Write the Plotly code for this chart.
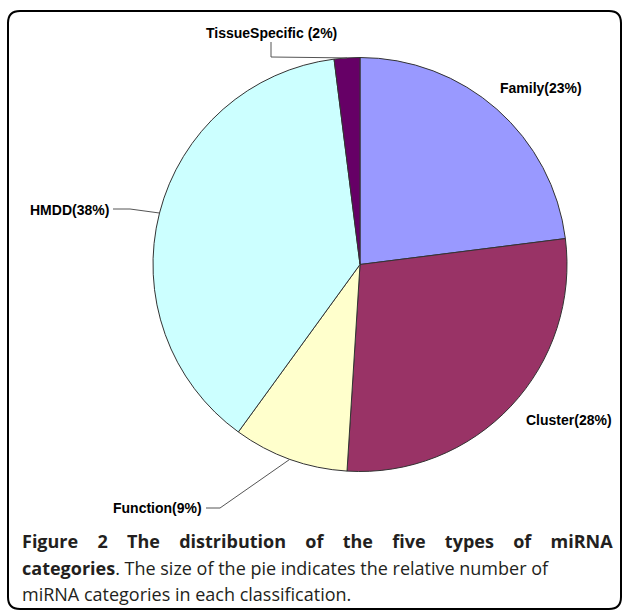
import math
import plotly.graph_objects as go

# ---- data ----
categories = ["Family", "Cluster", "Function", "HMDD", "TissueSpecific"]
percent = [23, 28, 9, 38, 2]
label_sep = ["", "", "", "", " "]
colors = ["#9999FF", "#993366", "#FFFFCC", "#CCFFFF", "#660066"]

caption_bold_1 = "Figure 2 The distribution of the five types of miRNA"
caption_bold_2 = "categories"
caption_rest_2 = ". The size of the pie indicates the relative number of"
caption_line_3 = "miRNA categories in each classification."

# ---- layout geometry (pixels) ----
W, H = 627, 610
cx, cy, r = 360, 264.5, 207


def px(x):
    return x / W


def py(y):
    return 1 - y / H


fig = go.Figure()
fig.add_trace(go.Pie(
    labels=categories, values=percent, sort=False, direction="clockwise",
    rotation=0, textinfo="none", hoverinfo="label+percent",
    marker=dict(colors=colors, line=dict(color="#333333", width=1)),
    domain=dict(x=[px(cx - r), px(cx + r)], y=[py(cy + r), py(cy - r)]),
    showlegend=False,
))

# edge points of slice mid-angles
total = sum(percent)
edge = []
cum = 0
for v in percent:
    mid = (cum + v / 2) / total
    th = 2 * math.pi * mid
    edge.append((cx + r * math.sin(th), cy - r * math.cos(th)))
    cum += v

labels = [f"<b>{c}{s}({p}%)</b>" for c, s, p in zip(categories, label_sep, percent)]
# label placement: (x, y, xanchor)
label_pos = [(541, 88, "center"), (569, 420, "center"), (204, 508, "right"),
             (111, 210, "right"), (271, 33, "center")]
# leader line bend points (None = no leader)
leader = [None, None, [(206, 508), (220, 508)], [(113, 209), (130, 209)],
          [(271, 42), (271, 57)]]

annotations = []
for lab, (x, y, xa) in zip(labels, label_pos):
    annotations.append(dict(
        x=px(x), y=py(y), xref="paper", yref="paper", text=lab, showarrow=False,
        xanchor=xa, yanchor="middle",
        font=dict(family="Liberation Sans, Arial", size=14, color="#000000")))

shapes = []
for pts, e in zip(leader, edge):
    if pts is None:
        continue
    allp = pts + [e]
    path = "M " + " L ".join(f"{px(a)},{py(b)}" for a, b in allp)
    shapes.append(dict(type="path", xref="paper", yref="paper", path=path,
                       line=dict(color="#555555", width=1)))

# rounded frame
x0, x1, y0, y1, rad = 8, 621, 11, 609, 12
frame = (f"M {px(x0)},{py(y0 + rad)} Q {px(x0)},{py(y0)} {px(x0 + rad)},{py(y0)} "
         f"L {px(x1 - rad)},{py(y0)} Q {px(x1)},{py(y0)} {px(x1)},{py(y0 + rad)} "
         f"L {px(x1)},{py(y1 - rad)} Q {px(x1)},{py(y1)} {px(x1 - rad)},{py(y1)} "
         f"L {px(x0 + rad)},{py(y1)} Q {px(x0)},{py(y1)} {px(x0)},{py(y1 - rad)} Z")
shapes.append(dict(type="path", xref="paper", yref="paper", path=frame,
                   line=dict(color="#000000", width=2)))

cap_font = dict(family="Open Sans", size=18, color="#231f20")
annotations.append(dict(x=px(20), y=py(541), xref="paper", yref="paper",
                        xanchor="left", yanchor="middle", showarrow=False,
                        text=f"<b><span style='word-spacing:14.6px'>{caption_bold_1}</span></b>",
                        font=cap_font))
annotations.append(dict(x=px(20), y=py(568), xref="paper", yref="paper",
                        xanchor="left", yanchor="middle", showarrow=False,
                        text=f"<b>{caption_bold_2}</b>{caption_rest_2}",
                        font=cap_font))
annotations.append(dict(x=px(20), y=py(594), xref="paper", yref="paper",
                        xanchor="left", yanchor="middle", showarrow=False,
                        text=caption_line_3, font=cap_font))

fig.update_layout(width=W, height=H, margin=dict(l=0, r=0, t=0, b=0),
                  paper_bgcolor="white", plot_bgcolor="white",
                  annotations=annotations, shapes=shapes)
fig.write_html("out.html")
